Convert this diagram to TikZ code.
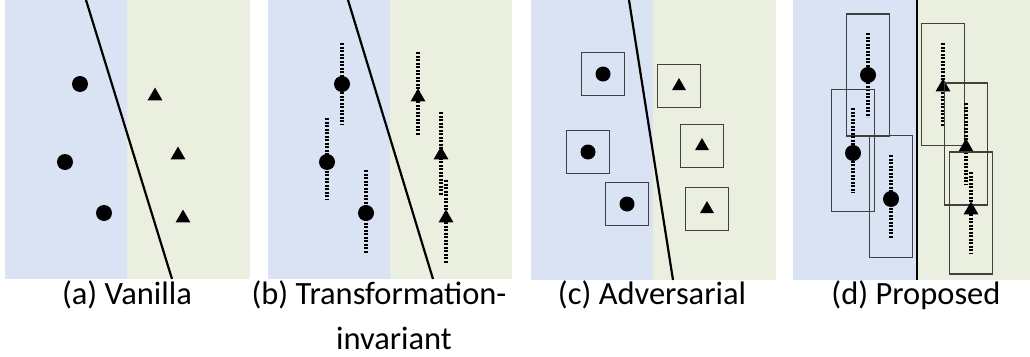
\documentclass[tikz,border=0pt]{standalone}
\usepackage{fontspec}
\setmainfont{Carlito}
\usetikzlibrary{shapes.geometric,positioning}
\definecolor{bgblue}{HTML}{DAE3F3}
\definecolor{bggreen}{HTML}{EBEFDF}
\tikzset{
  dot/.style={circle,fill=black,inner sep=0pt,minimum size=16pt},
  tri/.style={regular polygon,regular polygon sides=3,fill=black,inner sep=0pt,minimum size=17pt},
  bound/.style={line width=2.2pt},
  jitter/.style={line width=3.6pt,dash pattern=on 2.2pt off 1.3pt},
  advbox/.style={draw=black!75,line width=1.3pt,inner sep=0pt,minimum width=43pt,minimum height=43pt},
  augbox/.style={advbox,minimum height=122pt},
  caption/.style={anchor=base,inner sep=0pt,font=\fontsize{32.5}{38}\selectfont}
}

\begin{document}
\begin{tikzpicture}[x=1pt,y=-1pt]
\useasboundingbox (0,0) rectangle (1030,356);

% (a)
\begin{scope}
\fill[bgblue] (5,0) rectangle (127,279);
\fill[bggreen] (127,0) rectangle (250,279);
\coordinate (aTopPt) at (86,0);
\coordinate (aBotPt) at (172,279);
\draw[bound] (aTopPt) -- (aBotPt);
\foreach \x/\y [count=\i] in {80/84, 65/162, 104/213}
{
    \node[dot] (aC\i) at (\x,\y) {};
}
\foreach \x/\y [count=\i] in {155/96, 178/155, 183/218}
{
    \node[tri] (aT\i) at (\x,\y) {};
}
\node[caption] (aLab) at (127,304) {(a) Vanilla};
\end{scope}

% (b)
\begin{scope}
\fill[bgblue] (268,0) rectangle (390,279);
\fill[bggreen] (390,0) rectangle (512,279);
\coordinate (bTopPt) at (348,0);
\coordinate (bBotPt) at (433,279);
\draw[bound] (bTopPt) -- (bBotPt);
\foreach \x/\y/\u/\d [count=\i] in {342/84/43/125, 327/162/118/200, 366/213/170/253}
{
    \coordinate (bCU\i) at (\x,\u);
    \coordinate (bCD\i) at (\x,\d);
    \draw[jitter] (bCU\i) -- (bCD\i);
    \node[dot] (bC\i) at (\x,\y) {};
}
\foreach \x/\y/\u/\d [count=\i] in {418/97/52/135, 441/155/112/195, 446/218/180/263}
{
    \coordinate (bTU\i) at (\x,\u);
    \coordinate (bTD\i) at (\x,\d);
    \draw[jitter] (bTU\i) -- (bTD\i);
    \node[tri] (bT\i) at (\x,\y) {};
}
\node[caption] (bLab) at (379,304) {(b) Transformation-};
\node[caption] (bLabB) at (394,349) {invariant};
\end{scope}

% (c)
\begin{scope}
\fill[bgblue] (531,0) rectangle (653,280);
\fill[bggreen] (653,0) rectangle (776,280);
\coordinate (cTopPt) at (629,0);
\coordinate (cBotPt) at (673,280);
\draw[bound] (cTopPt) -- (cBotPt);
\foreach \x/\y [count=\i] in {603/74, 588/152, 627/204}
{
    \node[dot,minimum size=15pt] (cC\i) at (\x,\y) {};
    \node[advbox] (cCB\i) at (\x,\y) {};
}
\foreach \x/\y [count=\i] in {679/86, 702/146, 707/209}
{
    \node[tri,minimum size=16pt] (cT\i) at (\x,\y) {};
    \node[advbox] (cTB\i) at (\x,\y) {};
}
\node[caption] (cLab) at (652,304) {(c) Adversarial};
\end{scope}

% (d)
\begin{scope}
\fill[bgblue] (793,0) rectangle (917,280);
\fill[bggreen] (917,0) rectangle (1030,280);
\coordinate (dTopPt) at (917,0);
\coordinate (dBotPt) at (917,280);
\draw[bound] (dTopPt) -- (dBotPt);
\foreach \x/\y/\u/\d [count=\i] in {868/75/33/117, 853/153/108/193, 891/199/155/238}
{
    \coordinate (dCU\i) at (\x,\u);
    \coordinate (dCD\i) at (\x,\d);
    \draw[jitter] (dCU\i) -- (dCD\i);
    \node[dot] (dC\i) at (\x,\y) {};
    \node[augbox] (dCB\i) at (\x,{(\u+\d)/2}) {};
}
\foreach \x/\y/\u/\d [count=\i] in {943/87/43/126, 966/147/103/185, 971/210/172/254}
{
    \coordinate (dTU\i) at (\x,\u);
    \coordinate (dTD\i) at (\x,\d);
    \draw[jitter] (dTU\i) -- (dTD\i);
    \node[tri] (dT\i) at (\x,\y) {};
    \node[augbox] (dTB\i) at (\x,{(\u+\d)/2}) {};
}
\node[caption] (dLab) at (916,304) {(d) Proposed};
\end{scope}

\end{tikzpicture}
\end{document}
